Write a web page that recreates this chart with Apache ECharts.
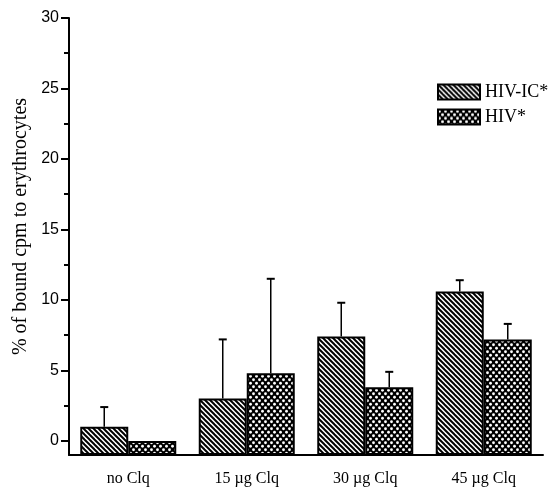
<!DOCTYPE html>
<html style="height: 100%">
<head>
  <meta charset="utf-8">
</head>
<body style="height: 100%; margin: 0; background: #fff">
  <div id="container" style="width: 550px; height: 491px"></div>
  <script src="https://cdn.jsdelivr.net/npm/echarts@6/dist/echarts.min.js"></script>
  <script>
    // data
    var categories = ['no Clq', '15 \u00b5g Clq', '30 \u00b5g Clq', '45 \u00b5g Clq'];
    var hivIC = [1.0, 3.0, 7.4, 10.6];
    var hivICErr = [1.4, 4.2, 2.4, 0.8];
    var hiv = [0, 4.8, 3.8, 7.2];
    var hivErr = [0, 6.7, 1.1, 1.1];
    var yTicks = [0, 5, 10, 15, 20, 25, 30];
    var yMinorTicks = [2.5, 7.5, 12.5, 17.5, 22.5, 27.5];

    // hatch fills
    function stripes() {
      var s = 5;
      var c = document.createElement('canvas');
      c.width = s; c.height = s;
      var g = c.getContext('2d');
      g.fillStyle = '#fff';
      g.fillRect(0, 0, s, s);
      g.strokeStyle = '#000';
      g.lineWidth = 2;
      for (var k = -1; k <= 1; k++) {
        g.beginPath();
        g.moveTo(k * s - 1, -1);
        g.lineTo(k * s + s + 1, s + 1);
        g.stroke();
      }
      return { image: c, repeat: 'repeat' };
    }
    function dots() {
      var c = document.createElement('canvas');
      c.width = 6; c.height = 7;
      var g = c.getContext('2d');
      g.fillStyle = '#000';
      g.fillRect(0, 0, 6, 7);
      g.fillStyle = '#fff';
      g.beginPath(); g.arc(1.5, 1.75, 1.4, 0, Math.PI * 2); g.fill();
      g.beginPath(); g.arc(4.5, 5.25, 1.4, 0, Math.PI * 2); g.fill();
      return { image: c, repeat: 'repeat' };
    }

    function errSeries(name, vals, errs, off) {
      var d = [];
      for (var i = 0; i < vals.length; i++) d.push([i, vals[i], errs[i]]);
      return {
        name: name,
        type: 'custom',
        z: 5,
        data: d,
        encode: { x: 0, y: 1 },
        renderItem: function (params, api) {
          if (!api.value(2)) return null;
          var p0 = api.coord([api.value(0), api.value(1)]);
          var p1 = api.coord([api.value(0), api.value(1) + api.value(2)]);
          var x = p0[0] + off;
          return {
            type: 'group',
            children: [
              { type: 'line', shape: { x1: x, y1: p0[1], x2: x, y2: p1[1] },
                style: { stroke: '#000', lineWidth: 1.5 } },
              { type: 'line', shape: { x1: x - 4, y1: p1[1], x2: x + 4, y2: p1[1] },
                style: { stroke: '#000', lineWidth: 2 } }
            ]
          };
        }
      };
    }

    var serif = 'Liberation Serif';
    var dom = document.getElementById('container');
    var myChart = echarts.init(dom);
    var option = {
      animation: false,
      backgroundColor: '#fff',
      grid: { left: 69, right: 7, top: 18, bottom: 36 },
      legend: {
        data: ['HIV-IC*', 'HIV*'],
        orient: 'vertical',
        left: 437,
        top: 83,
        padding: 0,
        itemWidth: 42,
        itemHeight: 15,
        itemGap: 7,
        icon: 'rect',
        textStyle: { fontFamily: serif, fontSize: 18, color: '#000' }
      },
      xAxis: [
        {
          type: 'category',
          data: categories,
          position: 'bottom',
          axisLine: { onZero: false, lineStyle: { color: '#000', width: 2 } },
          axisTick: { alignWithLabel: true, length: 9, lineStyle: { color: '#000', width: 2 } },
          axisLabel: { margin: 16, fontFamily: serif, fontSize: 16, color: '#000' }
        },
        {
          type: 'category',
          data: categories,
          position: 'bottom',
          axisLine: { show: false, onZero: false },
          axisTick: { length: 4, lineStyle: { color: '#000', width: 2 } },
          axisLabel: { show: false }
        }
      ],
      yAxis: [
        {
          type: 'value',
          min: -1,
          max: 30,
          startValue: -1,
          position: 'left',
          name: '% of bound cpm to erythrocytes',
          nameLocation: 'middle',
          nameRotate: 90,
          nameGap: 38,
          nameTextStyle: { fontFamily: serif, fontSize: 20, color: '#000', padding: [0, 0, 0, 20] },
          axisLine: { show: true, lineStyle: { color: '#000', width: 2 } },
          axisTick: { show: true, length: 8, customValues: yTicks, lineStyle: { color: '#000', width: 2 } },
          axisLabel: { customValues: yTicks, margin: 10, fontFamily: 'Liberation Sans', fontSize: 16, color: '#000' },
          splitLine: { show: false }
        },
        {
          type: 'value',
          min: -1,
          max: 30,
          position: 'left',
          axisLine: { show: false },
          axisTick: { show: true, length: 5, customValues: yMinorTicks, lineStyle: { color: '#000', width: 2 } },
          axisLabel: { show: false },
          splitLine: { show: false }
        }
      ],
      series: [
        {
          name: 'HIV-IC*',
          type: 'bar',
          data: hivIC,
          barWidth: 48,
          barGap: '0%',
          itemStyle: { color: stripes(), borderColor: '#000', borderWidth: 2 }
        },
        {
          name: 'HIV*',
          type: 'bar',
          data: hiv,
          barWidth: 48,
          barGap: '0%',
          itemStyle: { color: dots(), borderColor: '#000', borderWidth: 2 }
        },
        errSeries('HIV-IC* err', hivIC, hivICErr, -24),
        errSeries('HIV* err', hiv, hivErr, 24)
      ]
    };
    myChart.setOption(option);
  </script>
</body>
</html>
